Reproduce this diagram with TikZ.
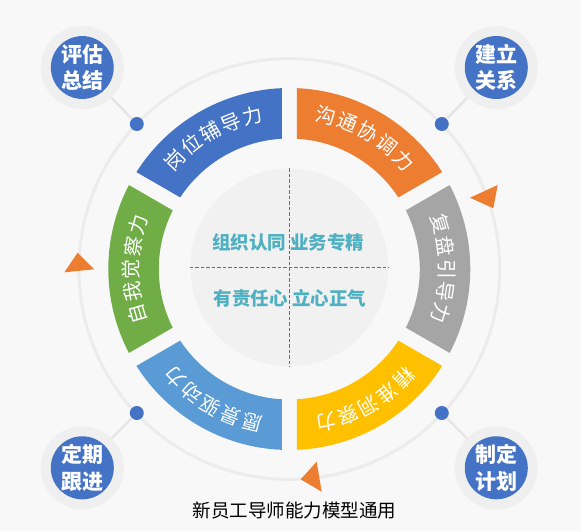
\documentclass[tikz,border=0pt]{standalone}
\usepackage{fontspec}
\newfontfamily\cjk{Noto Sans CJK SC}
\definecolor{bgc}{HTML}{F8F8F8}
\definecolor{faintc}{HTML}{ECECEC}
\definecolor{diskc}{HTML}{F1F1F1}
\definecolor{cblue}{HTML}{4472C4}
\definecolor{corange}{HTML}{ED7D31}
\definecolor{cgray}{HTML}{A5A5A5}
\definecolor{cyellow}{HTML}{FFC000}
\definecolor{clblue}{HTML}{5B9BD5}
\definecolor{cgreen}{HTML}{70AD47}
\definecolor{cteal}{RGB}{78,176,192}
\definecolor{ringc}{HTML}{EFEFEF}
\definecolor{connc}{HTML}{E6E6E6}
\newcommand{\ringseg}[3]{%
  \fill[#3] ({#1-2.37}:181pt) arc[start angle={#1-2.37}, end angle={#2+2.37}, radius=181pt]
    -- ({#2+3.29}:130.5pt) arc[start angle={#2+3.29}, end angle={#1-3.29}, radius=130.5pt] -- cycle;}
\tikzset{
  segchar/.style={text=white, font=\cjk\fontsize{20}{20}\selectfont, inner sep=0pt,
    text height=0.86em, text depth=0.14em},
  ctext/.style={text=cteal, font=\cjk\bfseries\fontsize{18.5}{20}\selectfont, inner sep=0pt},
  badgering/.style={circle, fill=ringc, minimum size=83pt, inner sep=0pt},
  badge/.style={circle, fill=cblue, minimum size=60pt, inner sep=0pt, text=white, align=center,
    font=\cjk\bfseries\fontsize{21}{26.7}\selectfont},
  dotn/.style={circle, fill=cblue, minimum size=14pt, inner sep=0pt},
  conn/.style={draw=connc, line width=2.5pt},
  tri/.style={fill=corange},
  dashline/.style={draw=cblue, line width=0.8pt, dash pattern=on 3.5pt off 2pt}
}
\begin{document}
\begin{tikzpicture}[x=1pt,y=1pt]
\useasboundingbox (-289.3,-262) rectangle (291.7,269);
\fill[bgc] (-289.3,-262) rectangle (291.7,269);
% faint big circle
\draw[faintc, line width=3pt] (0,0) circle[radius=210.4pt];
% connectors, dots and badges
\node[dotn] (d1) at (-152.5,145) {};
\node[dotn] (d2) at (152.5,145) {};
\node[dotn] (d3) at (-152.5,-144) {};
\node[dotn] (d4) at (152.5,-144) {};
\node[badgering] (r1) at (-207,201.5) {};
\node[badgering] (r2) at (207,201.5) {};
\node[badgering] (r3) at (-207,-198.8) {};
\node[badgering] (r4) at (207,-198.8) {};
\draw[conn] (d1) -- (r1);
\draw[conn] (d2) -- (r2);
\draw[conn] (d3) -- (r3);
\draw[conn] (d4) -- (r4);
\node[badge] (b1) at (r1) {评估\\总结};
\node[badge] (b2) at (r2) {建立\\关系};
\node[badge] (b3) at (r3) {定期\\跟进};
\node[badge] (b4) at (r4) {制定\\计划};
% triangles
\fill[tri] (180.7,71.3) -- (208.4,84) -- (204,60.7) -- cycle;
\fill[tri] (-211.6,16.3) -- (-225,-3.3) -- (-195,-0.3) -- cycle;
\fill[tri] (11.4,-210.3) -- (27.4,-192.7) -- (32.4,-222.7) -- cycle;
% ring segments
\ringseg{150}{90}{cblue}
\ringseg{90}{30}{corange}
\ringseg{30}{-30}{cgray}
\ringseg{-30}{-90}{cyellow}
\ringseg{-90}{-150}{clblue}
\ringseg{210}{150}{cgreen}
% segment texts
\foreach \ch [count=\k] in {岗,位,辅,导,力}
  \node[segchar, rotate={120+16.4-(\k-1)*8.2-90}] (sa\k) at ({120+16.4-(\k-1)*8.2}:154pt) {\ch};
\foreach \ch [count=\k] in {沟,通,协,调,力}
  \node[segchar, rotate={60+16.4-(\k-1)*8.2-90}] (sb\k) at ({60+16.4-(\k-1)*8.2}:154pt) {\ch};
\foreach \ch [count=\k] in {复,盘,引,导,力}
  \node[segchar, rotate={0+16.4-(\k-1)*8.2-90}] (sc\k) at ({0+16.4-(\k-1)*8.2}:154pt) {\ch};
\foreach \ch [count=\k] in {精,准,洞,察,力}
  \node[segchar, rotate={-60+16.4-(\k-1)*8.2-90}] (sd\k) at ({-60+16.4-(\k-1)*8.2}:154pt) {\ch};
\foreach \ch [count=\k] in {愿,景,驱,动,力}
  \node[segchar, rotate={-120+16.4-(\k-1)*8.2-90}] (se\k) at ({-120+16.4-(\k-1)*8.2}:154pt) {\ch};
\foreach \ch [count=\k] in {自,我,觉,察,力}
  \node[segchar, rotate={180+16.4-(\k-1)*8.2-90}] (sf\k) at ({180+16.4-(\k-1)*8.2}:154pt) {\ch};
% inner disk
\fill[diskc] (0,1.5) circle[radius=99pt];
\coordinate (vt) at (0,101);
\coordinate (vb) at (0,-97.7);
\coordinate (hl) at (-99.3,1.7);
\coordinate (hr) at (99,1.7);
\draw[dashline] (vt) -- (vb);
\draw[dashline] (hl) -- (hr);
\node[ctext] (c1) at (-1,26.3) {组织认同 业务专精};
\node[ctext] (c2) at (0.7,-29.3) {有责任心 立心正气};
% caption
\node[font=\cjk\fontsize{18.5}{20}\selectfont, inner sep=0pt] (cap) at (5.4,-241) {新员工导师能力模型通用};
\end{tikzpicture}
\end{document}
